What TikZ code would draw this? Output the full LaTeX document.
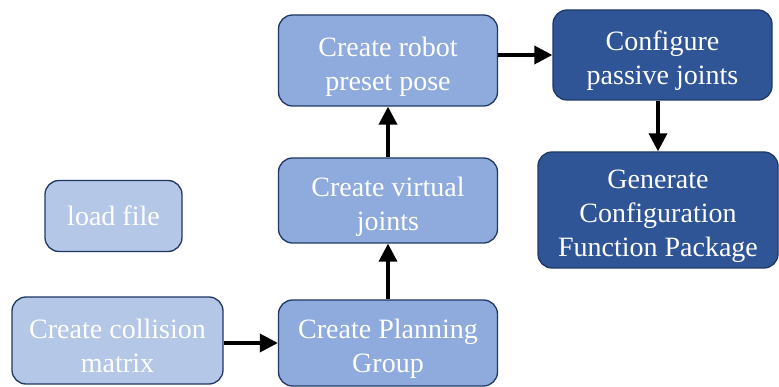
\documentclass[tikz,border=0pt]{standalone}
\usepackage{fontspec}
\setmainfont{Liberation Serif}
\usetikzlibrary{arrows.meta}
\definecolor{lightbox}{HTML}{B4C7E7}
\definecolor{midbox}{HTML}{8FAADC}
\definecolor{darkbox}{HTML}{2F5597}
\definecolor{edge}{HTML}{1F3864}
\newcommand\tshift{\rule{0pt}{31pt}}
\begin{document}
\begin{tikzpicture}[x=1pt,y=-1pt,
  box/.style={draw=edge,line width=1.3pt,rounded corners=14pt,text=white,align=center,
    font=\fontsize{28}{34}\selectfont,inner sep=0pt,anchor=center},
  flow/.style={line width=3.5pt,-{Triangle[length=18pt,width=18pt]}}]
\useasboundingbox (0,0) rectangle (779,387);
\node[box,fill=lightbox,minimum width=137pt,minimum height=71pt] (load) at (113.5,216) {load file};
\node[box,fill=lightbox,minimum width=211pt,minimum height=87pt] (coll) at (117.5,340.5) {\tshift Create collision\\matrix};
\node[box,fill=midbox,minimum width=219pt,minimum height=86pt] (plan) at (388,343) {\tshift Create Planning\\Group};
\node[box,fill=midbox,minimum width=219pt,minimum height=85pt] (virt) at (388,200.5) {\tshift Create virtual\\joints};
\node[box,fill=midbox,minimum width=219pt,minimum height=91pt] (robot) at (388,60.5) {\tshift Create robot\\preset pose};
\node[box,fill=darkbox,minimum width=219pt,minimum height=90pt] (conf) at (662.5,55) {\tshift Configure\\passive joints};
\node[box,fill=darkbox,minimum width=240pt,minimum height=116pt] (gen) at (658,210) {\tshift Generate\\Configuration\\Function Package};
\draw[flow] (coll.east |- plan.west) -- (plan.west);
\draw[flow] (plan.north) -- (virt.south);
\draw[flow] (virt.north) -- (robot.south);
\draw[flow] (robot.east |- conf.west) -- (conf.west);
\draw[flow] (gen.north |- conf.south) -- (gen.north);
\end{tikzpicture}
\end{document}
